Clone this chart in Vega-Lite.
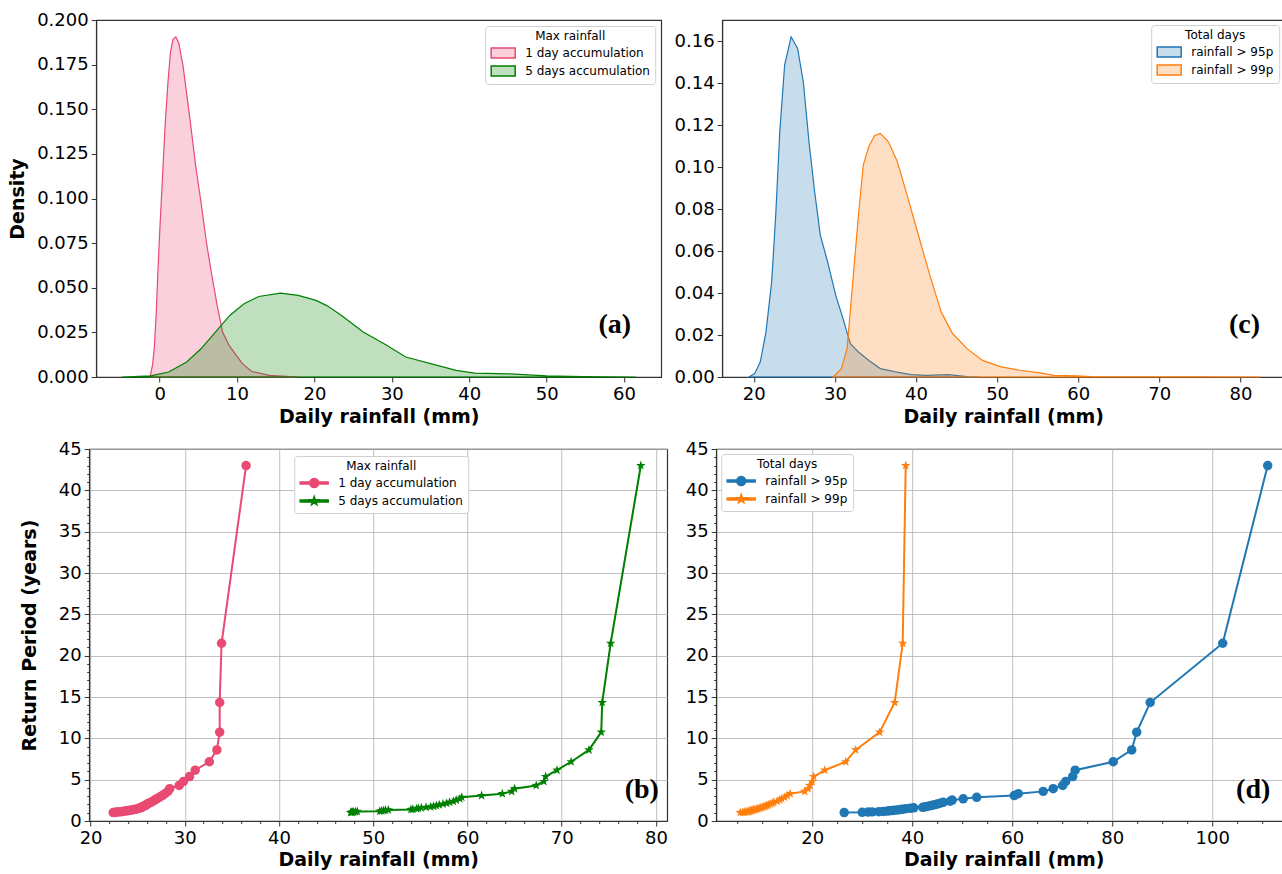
{
  "$schema": "https://vega.github.io/schema/vega-lite/v6.json",
  "background": "white",
  "padding": {"left": 8, "top": 10, "right": 0, "bottom": 0},
  "center": true,
  "datasets": {
    "kde_a": [
      {"series": "1 day accumulation", "x": -1.25, "density": 0},
      {"series": "1 day accumulation", "x": -0.93, "density": 0.0065},
      {"series": "1 day accumulation", "x": -0.7, "density": 0.0158},
      {"series": "1 day accumulation", "x": -0.46, "density": 0.0345},
      {"series": "1 day accumulation", "x": -0.23, "density": 0.0587},
      {"series": "1 day accumulation", "x": 0, "density": 0.081},
      {"series": "1 day accumulation", "x": 0.33, "density": 0.109},
      {"series": "1 day accumulation", "x": 0.7, "density": 0.1407},
      {"series": "1 day accumulation", "x": 1.07, "density": 0.165},
      {"series": "1 day accumulation", "x": 1.39, "density": 0.1817},
      {"series": "1 day accumulation", "x": 1.72, "density": 0.1892},
      {"series": "1 day accumulation", "x": 2.09, "density": 0.1905},
      {"series": "1 day accumulation", "x": 2.46, "density": 0.1873},
      {"series": "1 day accumulation", "x": 3.02, "density": 0.1743},
      {"series": "1 day accumulation", "x": 3.86, "density": 0.1463},
      {"series": "1 day accumulation", "x": 4.65, "density": 0.1184},
      {"series": "1 day accumulation", "x": 5.34, "density": 0.0979},
      {"series": "1 day accumulation", "x": 6.04, "density": 0.0755},
      {"series": "1 day accumulation", "x": 6.74, "density": 0.0569},
      {"series": "1 day accumulation", "x": 7.43, "density": 0.0401},
      {"series": "1 day accumulation", "x": 8.13, "density": 0.0252},
      {"series": "1 day accumulation", "x": 8.97, "density": 0.0177},
      {"series": "1 day accumulation", "x": 9.76, "density": 0.013},
      {"series": "1 day accumulation", "x": 10.69, "density": 0.0075},
      {"series": "1 day accumulation", "x": 11.85, "density": 0.0032},
      {"series": "1 day accumulation", "x": 14.17, "density": 0.0009},
      {"series": "1 day accumulation", "x": 17.9, "density": 0},
      {"series": "5 days accumulation", "x": -4.9, "density": 0},
      {"series": "5 days accumulation", "x": -1.16, "density": 0.0006},
      {"series": "5 days accumulation", "x": 1.16, "density": 0.0028},
      {"series": "5 days accumulation", "x": 3.49, "density": 0.0084},
      {"series": "5 days accumulation", "x": 5.34, "density": 0.0158},
      {"series": "5 days accumulation", "x": 7.2, "density": 0.0252},
      {"series": "5 days accumulation", "x": 9.06, "density": 0.0345},
      {"series": "5 days accumulation", "x": 10.9, "density": 0.041},
      {"series": "5 days accumulation", "x": 12.8, "density": 0.0451},
      {"series": "5 days accumulation", "x": 15.6, "density": 0.047},
      {"series": "5 days accumulation", "x": 17.9, "density": 0.0457},
      {"series": "5 days accumulation", "x": 20.2, "density": 0.0429},
      {"series": "5 days accumulation", "x": 21.6, "density": 0.04},
      {"series": "5 days accumulation", "x": 23.5, "density": 0.0345},
      {"series": "5 days accumulation", "x": 26.3, "density": 0.0252},
      {"series": "5 days accumulation", "x": 29.0, "density": 0.0186},
      {"series": "5 days accumulation", "x": 31.8, "density": 0.0112},
      {"series": "5 days accumulation", "x": 35.5, "density": 0.0069},
      {"series": "5 days accumulation", "x": 38.3, "density": 0.0037},
      {"series": "5 days accumulation", "x": 40.7, "density": 0.0022},
      {"series": "5 days accumulation", "x": 45.3, "density": 0.0017},
      {"series": "5 days accumulation", "x": 50.0, "density": 0.0006},
      {"series": "5 days accumulation", "x": 54.6, "density": 0.0002},
      {"series": "5 days accumulation", "x": 61.5, "density": 0}
    ],
    "kde_c": [
      {"series": "rainfall > 95p", "x": 19.4, "density": 0},
      {"series": "rainfall > 95p", "x": 20.1, "density": 0.0016},
      {"series": "rainfall > 95p", "x": 20.8, "density": 0.0072},
      {"series": "rainfall > 95p", "x": 21.5, "density": 0.0215},
      {"series": "rainfall > 95p", "x": 22.2, "density": 0.0453},
      {"series": "rainfall > 95p", "x": 22.7, "density": 0.077},
      {"series": "rainfall > 95p", "x": 23.2, "density": 0.1168},
      {"series": "rainfall > 95p", "x": 23.8, "density": 0.1486},
      {"series": "rainfall > 95p", "x": 24.6, "density": 0.162},
      {"series": "rainfall > 95p", "x": 25.4, "density": 0.1565},
      {"series": "rainfall > 95p", "x": 26.1, "density": 0.1406},
      {"series": "rainfall > 95p", "x": 26.8, "density": 0.112},
      {"series": "rainfall > 95p", "x": 27.5, "density": 0.0882},
      {"series": "rainfall > 95p", "x": 28.2, "density": 0.0675},
      {"series": "rainfall > 95p", "x": 29.1, "density": 0.0548},
      {"series": "rainfall > 95p", "x": 30.1, "density": 0.0389},
      {"series": "rainfall > 95p", "x": 31.0, "density": 0.0278},
      {"series": "rainfall > 95p", "x": 31.9, "density": 0.0159},
      {"series": "rainfall > 95p", "x": 32.9, "density": 0.0119},
      {"series": "rainfall > 95p", "x": 34.2, "density": 0.0079},
      {"series": "rainfall > 95p", "x": 35.6, "density": 0.004},
      {"series": "rainfall > 95p", "x": 37.5, "density": 0.0024},
      {"series": "rainfall > 95p", "x": 39.4, "density": 0.0011},
      {"series": "rainfall > 95p", "x": 41.2, "density": 0.0008},
      {"series": "rainfall > 95p", "x": 44.0, "density": 0.0011},
      {"series": "rainfall > 95p", "x": 46.3, "density": 0.0002},
      {"series": "rainfall > 95p", "x": 47.7, "density": 0},
      {"series": "rainfall > 99p", "x": 29.8, "density": 0},
      {"series": "rainfall > 99p", "x": 30.8, "density": 0.004},
      {"series": "rainfall > 99p", "x": 31.5, "density": 0.0135},
      {"series": "rainfall > 99p", "x": 32.2, "density": 0.0453},
      {"series": "rainfall > 99p", "x": 32.9, "density": 0.077},
      {"series": "rainfall > 99p", "x": 33.5, "density": 0.101},
      {"series": "rainfall > 99p", "x": 34.2, "density": 0.11},
      {"series": "rainfall > 99p", "x": 34.9, "density": 0.115},
      {"series": "rainfall > 99p", "x": 35.6, "density": 0.116},
      {"series": "rainfall > 99p", "x": 36.6, "density": 0.112},
      {"series": "rainfall > 99p", "x": 37.7, "density": 0.1025},
      {"series": "rainfall > 99p", "x": 38.9, "density": 0.0866},
      {"series": "rainfall > 99p", "x": 40.3, "density": 0.0675},
      {"series": "rainfall > 99p", "x": 41.7, "density": 0.0485},
      {"series": "rainfall > 99p", "x": 43.1, "density": 0.031},
      {"series": "rainfall > 99p", "x": 44.5, "density": 0.0207},
      {"series": "rainfall > 99p", "x": 46.3, "density": 0.0135},
      {"series": "rainfall > 99p", "x": 48.2, "density": 0.0079},
      {"series": "rainfall > 99p", "x": 50.5, "density": 0.0048},
      {"series": "rainfall > 99p", "x": 52.8, "density": 0.0032},
      {"series": "rainfall > 99p", "x": 55.1, "density": 0.0021},
      {"series": "rainfall > 99p", "x": 57.0, "density": 0.0008},
      {"series": "rainfall > 99p", "x": 59.8, "density": 0.0005},
      {"series": "rainfall > 99p", "x": 61.6, "density": 0.0002},
      {"series": "rainfall > 99p", "x": 65.8, "density": 0.0001},
      {"series": "rainfall > 99p", "x": 75.0, "density": 0.0001},
      {"series": "rainfall > 99p", "x": 82.5, "density": 0}
    ],
    "rp_b": [
      {"series": "1 day accumulation", "x": 36.5, "rp": 43},
      {"series": "1 day accumulation", "x": 33.9, "rp": 21.5},
      {"series": "1 day accumulation", "x": 33.7, "rp": 14.333},
      {"series": "1 day accumulation", "x": 33.7, "rp": 10.75},
      {"series": "1 day accumulation", "x": 33.4, "rp": 8.6},
      {"series": "1 day accumulation", "x": 32.6, "rp": 7.167},
      {"series": "1 day accumulation", "x": 31.1, "rp": 6.143},
      {"series": "1 day accumulation", "x": 30.5, "rp": 5.375},
      {"series": "1 day accumulation", "x": 29.85, "rp": 4.778},
      {"series": "1 day accumulation", "x": 29.4, "rp": 4.3},
      {"series": "1 day accumulation", "x": 28.4, "rp": 3.909},
      {"series": "1 day accumulation", "x": 28.2, "rp": 3.583},
      {"series": "1 day accumulation", "x": 27.9, "rp": 3.308},
      {"series": "1 day accumulation", "x": 27.6, "rp": 3.071},
      {"series": "1 day accumulation", "x": 27.3, "rp": 2.867},
      {"series": "1 day accumulation", "x": 27.0, "rp": 2.688},
      {"series": "1 day accumulation", "x": 26.8, "rp": 2.529},
      {"series": "1 day accumulation", "x": 26.6, "rp": 2.389},
      {"series": "1 day accumulation", "x": 26.4, "rp": 2.263},
      {"series": "1 day accumulation", "x": 26.2, "rp": 2.15},
      {"series": "1 day accumulation", "x": 26.0, "rp": 2.048},
      {"series": "1 day accumulation", "x": 25.9, "rp": 1.955},
      {"series": "1 day accumulation", "x": 25.8, "rp": 1.87},
      {"series": "1 day accumulation", "x": 25.6, "rp": 1.792},
      {"series": "1 day accumulation", "x": 25.5, "rp": 1.72},
      {"series": "1 day accumulation", "x": 25.4, "rp": 1.654},
      {"series": "1 day accumulation", "x": 25.3, "rp": 1.593},
      {"series": "1 day accumulation", "x": 25.1, "rp": 1.536},
      {"series": "1 day accumulation", "x": 25.0, "rp": 1.483},
      {"series": "1 day accumulation", "x": 24.8, "rp": 1.433},
      {"series": "1 day accumulation", "x": 24.6, "rp": 1.387},
      {"series": "1 day accumulation", "x": 24.4, "rp": 1.344},
      {"series": "1 day accumulation", "x": 24.2, "rp": 1.303},
      {"series": "1 day accumulation", "x": 24.0, "rp": 1.265},
      {"series": "1 day accumulation", "x": 23.8, "rp": 1.229},
      {"series": "1 day accumulation", "x": 23.6, "rp": 1.194},
      {"series": "1 day accumulation", "x": 23.4, "rp": 1.162},
      {"series": "1 day accumulation", "x": 23.2, "rp": 1.132},
      {"series": "1 day accumulation", "x": 23.0, "rp": 1.103},
      {"series": "1 day accumulation", "x": 22.8, "rp": 1.075},
      {"series": "1 day accumulation", "x": 22.6, "rp": 1.049},
      {"series": "1 day accumulation", "x": 22.4, "rp": 1.024},
      {"series": "5 days accumulation", "x": 78.4, "rp": 43},
      {"series": "5 days accumulation", "x": 75.2, "rp": 21.5},
      {"series": "5 days accumulation", "x": 74.3, "rp": 14.333},
      {"series": "5 days accumulation", "x": 74.2, "rp": 10.75},
      {"series": "5 days accumulation", "x": 72.9, "rp": 8.6},
      {"series": "5 days accumulation", "x": 71.0, "rp": 7.167},
      {"series": "5 days accumulation", "x": 69.5, "rp": 6.143},
      {"series": "5 days accumulation", "x": 68.3, "rp": 5.375},
      {"series": "5 days accumulation", "x": 68.1, "rp": 4.778},
      {"series": "5 days accumulation", "x": 67.3, "rp": 4.3},
      {"series": "5 days accumulation", "x": 65.0, "rp": 3.909},
      {"series": "5 days accumulation", "x": 64.7, "rp": 3.583},
      {"series": "5 days accumulation", "x": 63.7, "rp": 3.308},
      {"series": "5 days accumulation", "x": 61.5, "rp": 3.071},
      {"series": "5 days accumulation", "x": 59.4, "rp": 2.867},
      {"series": "5 days accumulation", "x": 59.2, "rp": 2.688},
      {"series": "5 days accumulation", "x": 58.8, "rp": 2.529},
      {"series": "5 days accumulation", "x": 58.5, "rp": 2.389},
      {"series": "5 days accumulation", "x": 58.1, "rp": 2.263},
      {"series": "5 days accumulation", "x": 57.8, "rp": 2.15},
      {"series": "5 days accumulation", "x": 57.4, "rp": 2.048},
      {"series": "5 days accumulation", "x": 57.0, "rp": 1.955},
      {"series": "5 days accumulation", "x": 56.7, "rp": 1.87},
      {"series": "5 days accumulation", "x": 56.4, "rp": 1.792},
      {"series": "5 days accumulation", "x": 56.1, "rp": 1.72},
      {"series": "5 days accumulation", "x": 55.6, "rp": 1.654},
      {"series": "5 days accumulation", "x": 55.1, "rp": 1.593},
      {"series": "5 days accumulation", "x": 54.8, "rp": 1.536},
      {"series": "5 days accumulation", "x": 54.6, "rp": 1.483},
      {"series": "5 days accumulation", "x": 54.2, "rp": 1.433},
      {"series": "5 days accumulation", "x": 54.0, "rp": 1.387},
      {"series": "5 days accumulation", "x": 51.6, "rp": 1.344},
      {"series": "5 days accumulation", "x": 51.3, "rp": 1.303},
      {"series": "5 days accumulation", "x": 51.1, "rp": 1.265},
      {"series": "5 days accumulation", "x": 50.9, "rp": 1.229},
      {"series": "5 days accumulation", "x": 50.7, "rp": 1.194},
      {"series": "5 days accumulation", "x": 48.3, "rp": 1.162},
      {"series": "5 days accumulation", "x": 48.1, "rp": 1.132},
      {"series": "5 days accumulation", "x": 47.9, "rp": 1.103},
      {"series": "5 days accumulation", "x": 47.8, "rp": 1.075},
      {"series": "5 days accumulation", "x": 47.7, "rp": 1.049},
      {"series": "5 days accumulation", "x": 47.6, "rp": 1.024}
    ],
    "rp_d": [
      {"series": "rainfall > 95p", "x": 111.1, "rp": 43},
      {"series": "rainfall > 95p", "x": 102.1, "rp": 21.5},
      {"series": "rainfall > 95p", "x": 87.6, "rp": 14.333},
      {"series": "rainfall > 95p", "x": 84.9, "rp": 10.75},
      {"series": "rainfall > 95p", "x": 83.9, "rp": 8.6},
      {"series": "rainfall > 95p", "x": 80.2, "rp": 7.167},
      {"series": "rainfall > 95p", "x": 72.6, "rp": 6.143},
      {"series": "rainfall > 95p", "x": 72.1, "rp": 5.375},
      {"series": "rainfall > 95p", "x": 70.7, "rp": 4.778},
      {"series": "rainfall > 95p", "x": 70.1, "rp": 4.3},
      {"series": "rainfall > 95p", "x": 68.2, "rp": 3.909},
      {"series": "rainfall > 95p", "x": 66.2, "rp": 3.583},
      {"series": "rainfall > 95p", "x": 61.2, "rp": 3.308},
      {"series": "rainfall > 95p", "x": 60.4, "rp": 3.071},
      {"series": "rainfall > 95p", "x": 52.9, "rp": 2.867},
      {"series": "rainfall > 95p", "x": 50.2, "rp": 2.688},
      {"series": "rainfall > 95p", "x": 48.0, "rp": 2.529},
      {"series": "rainfall > 95p", "x": 47.6, "rp": 2.389},
      {"series": "rainfall > 95p", "x": 46.2, "rp": 2.263},
      {"series": "rainfall > 95p", "x": 45.6, "rp": 2.15},
      {"series": "rainfall > 95p", "x": 45.0, "rp": 2.048},
      {"series": "rainfall > 95p", "x": 44.4, "rp": 1.955},
      {"series": "rainfall > 95p", "x": 43.8, "rp": 1.87},
      {"series": "rainfall > 95p", "x": 43.2, "rp": 1.792},
      {"series": "rainfall > 95p", "x": 42.6, "rp": 1.72},
      {"series": "rainfall > 95p", "x": 42.1, "rp": 1.654},
      {"series": "rainfall > 95p", "x": 40.3, "rp": 1.593},
      {"series": "rainfall > 95p", "x": 39.6, "rp": 1.536},
      {"series": "rainfall > 95p", "x": 38.7, "rp": 1.483},
      {"series": "rainfall > 95p", "x": 38.1, "rp": 1.433},
      {"series": "rainfall > 95p", "x": 37.6, "rp": 1.387},
      {"series": "rainfall > 95p", "x": 37.1, "rp": 1.344},
      {"series": "rainfall > 95p", "x": 36.5, "rp": 1.303},
      {"series": "rainfall > 95p", "x": 36.0, "rp": 1.265},
      {"series": "rainfall > 95p", "x": 35.4, "rp": 1.229},
      {"series": "rainfall > 95p", "x": 34.9, "rp": 1.194},
      {"series": "rainfall > 95p", "x": 34.2, "rp": 1.162},
      {"series": "rainfall > 95p", "x": 33.3, "rp": 1.132},
      {"series": "rainfall > 95p", "x": 32.0, "rp": 1.103},
      {"series": "rainfall > 95p", "x": 31.2, "rp": 1.075},
      {"series": "rainfall > 95p", "x": 30.0, "rp": 1.049},
      {"series": "rainfall > 95p", "x": 26.4, "rp": 1.024},
      {"series": "rainfall > 99p", "x": 38.7, "rp": 43},
      {"series": "rainfall > 99p", "x": 38.1, "rp": 21.5},
      {"series": "rainfall > 99p", "x": 36.5, "rp": 14.333},
      {"series": "rainfall > 99p", "x": 33.5, "rp": 10.75},
      {"series": "rainfall > 99p", "x": 28.7, "rp": 8.6},
      {"series": "rainfall > 99p", "x": 26.7, "rp": 7.167},
      {"series": "rainfall > 99p", "x": 22.5, "rp": 6.143},
      {"series": "rainfall > 99p", "x": 20.3, "rp": 5.375},
      {"series": "rainfall > 99p", "x": 20.0, "rp": 4.778},
      {"series": "rainfall > 99p", "x": 19.5, "rp": 4.3},
      {"series": "rainfall > 99p", "x": 19.2, "rp": 3.909},
      {"series": "rainfall > 99p", "x": 18.5, "rp": 3.583},
      {"series": "rainfall > 99p", "x": 15.6, "rp": 3.308},
      {"series": "rainfall > 99p", "x": 15.0, "rp": 3.071},
      {"series": "rainfall > 99p", "x": 14.5, "rp": 2.867},
      {"series": "rainfall > 99p", "x": 13.9, "rp": 2.688},
      {"series": "rainfall > 99p", "x": 13.5, "rp": 2.529},
      {"series": "rainfall > 99p", "x": 13.0, "rp": 2.389},
      {"series": "rainfall > 99p", "x": 12.3, "rp": 2.263},
      {"series": "rainfall > 99p", "x": 12.0, "rp": 2.15},
      {"series": "rainfall > 99p", "x": 11.6, "rp": 2.048},
      {"series": "rainfall > 99p", "x": 11.2, "rp": 1.955},
      {"series": "rainfall > 99p", "x": 10.9, "rp": 1.87},
      {"series": "rainfall > 99p", "x": 10.6, "rp": 1.792},
      {"series": "rainfall > 99p", "x": 10.3, "rp": 1.72},
      {"series": "rainfall > 99p", "x": 10.0, "rp": 1.654},
      {"series": "rainfall > 99p", "x": 9.7, "rp": 1.593},
      {"series": "rainfall > 99p", "x": 9.4, "rp": 1.536},
      {"series": "rainfall > 99p", "x": 9.1, "rp": 1.483},
      {"series": "rainfall > 99p", "x": 8.8, "rp": 1.433},
      {"series": "rainfall > 99p", "x": 8.5, "rp": 1.387},
      {"series": "rainfall > 99p", "x": 8.3, "rp": 1.344},
      {"series": "rainfall > 99p", "x": 8.0, "rp": 1.303},
      {"series": "rainfall > 99p", "x": 7.8, "rp": 1.265},
      {"series": "rainfall > 99p", "x": 7.6, "rp": 1.229},
      {"series": "rainfall > 99p", "x": 7.4, "rp": 1.194},
      {"series": "rainfall > 99p", "x": 7.2, "rp": 1.162},
      {"series": "rainfall > 99p", "x": 7.0, "rp": 1.132},
      {"series": "rainfall > 99p", "x": 6.7, "rp": 1.103},
      {"series": "rainfall > 99p", "x": 6.4, "rp": 1.075},
      {"series": "rainfall > 99p", "x": 6.1, "rp": 1.049},
      {"series": "rainfall > 99p", "x": 5.6, "rp": 1.024}
    ],
    "labels": [
      {"panel": "a", "x": 58.8, "y": 0.0291, "t": "(a)"},
      {"panel": "c", "x": 80.5, "y": 0.0248, "t": "(c)"},
      {"panel": "b", "x": 78.5, "y": 3.7, "t": "(b)"},
      {"panel": "d", "x": 108.2, "y": 3.7, "t": "(d)"}
    ]
  },
  "resolve": {
    "scale": {"x": "independent", "y": "independent", "color": "independent", "fill": "independent", "stroke": "independent", "shape": "independent"},
    "legend": {"color": "independent", "fill": "independent", "stroke": "independent", "shape": "independent"}
  },
  "vconcat": [
    {
      "spacing": 11,
      "resolve": {
        "scale": {"x": "independent", "y": "independent", "color": "independent", "fill": "independent", "stroke": "independent", "shape": "independent"},
        "legend": {"color": "independent", "fill": "independent", "stroke": "independent", "shape": "independent"}
      },
      "hconcat": [
        {
          "width": 565,
          "height": 357,
          "layer": [
            {
              "data": {"name": "kde_a"},
              "mark": {"type": "area", "strokeWidth": 1.2},
              "encoding": {
                "x": {"field": "x", "type": "quantitative", "scale": {"domain": [-8.2, 64.8], "nice": false, "zero": false},
                  "axis": {"values": [0, 10, 20, 30, 40, 50, 60], "title": "Daily rainfall (mm)", "titlePadding": 4}},
                "y": {"field": "density", "type": "quantitative", "stack": null, "scale": {"domain": [0, 0.2], "nice": false},
                  "axis": {"values": [0, 0.025, 0.05, 0.075, 0.1, 0.125, 0.15, 0.175, 0.2], "format": ".3f", "title": "Density", "titlePadding": 9}},
                "fill": {"field": "series", "type": "nominal",
                  "scale": {"domain": ["1 day accumulation", "5 days accumulation"], "range": ["rgba(232,74,114,0.26)", "rgba(0,128,0,0.25)"]},
                  "legend": {"title": "Max rainfall", "orient": "top-right", "offset": 6, "symbolType": "M-1,-1H3.8V1H-1Z", "symbolSize": 100, "labelOffset": 23, "symbolStrokeWidth": 1.5}},
                "stroke": {"field": "series", "type": "nominal",
                  "scale": {"domain": ["1 day accumulation", "5 days accumulation"], "range": ["#e84a72", "#008000"]}, "legend": null}
              }
            },
            {
              "data": {"name": "labels"},
              "transform": [{"filter": "datum.panel === 'a'"}],
              "mark": {"type": "text", "font": "Liberation Serif", "fontWeight": "bold", "fontSize": 28, "color": "#000"},
              "encoding": {"x": {"field": "x", "type": "quantitative"}, "y": {"field": "y", "type": "quantitative"}, "text": {"field": "t"}}
            }
          ]
        },
        {
          "width": 562,
          "height": 357,
          "layer": [
            {
              "data": {"name": "kde_c"},
              "mark": {"type": "area", "strokeWidth": 1.2},
              "encoding": {
                "x": {"field": "x", "type": "quantitative", "scale": {"domain": [16.1, 85.4], "nice": false, "zero": false},
                  "axis": {"values": [20, 30, 40, 50, 60, 70, 80], "title": "Daily rainfall (mm)", "titlePadding": 4}},
                "y": {"field": "density", "type": "quantitative", "stack": null, "scale": {"domain": [0, 0.17], "nice": false},
                  "axis": {"values": [0, 0.02, 0.04, 0.06, 0.08, 0.1, 0.12, 0.14, 0.16], "format": ".2f", "title": null}},
                "fill": {"field": "series", "type": "nominal",
                  "scale": {"domain": ["rainfall > 95p", "rainfall > 99p"], "range": ["rgba(31,119,180,0.25)", "rgba(255,127,14,0.25)"]},
                  "legend": {"title": "Total days", "orient": "top-right", "offset": 5, "symbolType": "M-1,-1H3.8V1H-1Z", "symbolSize": 100, "labelOffset": 23, "symbolStrokeWidth": 1.5}},
                "stroke": {"field": "series", "type": "nominal",
                  "scale": {"domain": ["rainfall > 95p", "rainfall > 99p"], "range": ["#1f77b4", "#ff7f0e"]}, "legend": null}
              }
            },
            {
              "data": {"name": "labels"},
              "transform": [{"filter": "datum.panel === 'c'"}],
              "mark": {"type": "text", "font": "Liberation Serif", "fontWeight": "bold", "fontSize": 28, "color": "#000"},
              "encoding": {"x": {"field": "x", "type": "quantitative"}, "y": {"field": "y", "type": "quantitative"}, "text": {"field": "t"}}
            }
          ]
        }
      ]
    },
    {
      "spacing": 16,
      "resolve": {
        "scale": {"x": "independent", "y": "independent", "color": "independent", "fill": "independent", "stroke": "independent", "shape": "independent"},
        "legend": {"color": "independent", "fill": "independent", "stroke": "independent", "shape": "independent"}
      },
      "hconcat": [
        {
          "width": 578,
          "height": 372,
          "encoding": {
            "x": {"field": "x", "type": "quantitative", "scale": {"domain": [19.85, 81.2], "nice": false, "zero": false},
              "axis": {"values": [20, 22, 24, 26, 28, 30, 32, 34, 36, 38, 40, 42, 44, 46, 48, 50, 52, 54, 56, 58, 60, 62, 64, 66, 68, 70, 72, 74, 76, 78, 80],
                "labelExpr": "datum.value % 10 === 0 ? datum.label : ''",
                "tickSize": {"condition": {"test": "datum.value % 10 === 0", "value": 5}, "value": 2.5},
                "grid": true, "gridColor": "#b0b0b0", "gridWidth": 1,
                "gridOpacity": {"condition": {"test": "datum.value % 10 === 0", "value": 0.8}, "value": 0},
                "title": "Daily rainfall (mm)", "titlePadding": 3}},
            "y": {"field": "rp", "type": "quantitative", "scale": {"domain": [0, 45], "nice": false},
              "axis": {"values": [0,1,2,3,4,5,6,7,8,9,10,11,12,13,14,15,16,17,18,19,20,21,22,23,24,25,26,27,28,29,30,31,32,33,34,35,36,37,38,39,40,41,42,43,44,45],
                "labelExpr": "datum.value % 5 === 0 ? datum.label : ''",
                "tickSize": {"condition": {"test": "datum.value % 5 === 0", "value": 5}, "value": 2.5},
                "grid": true, "gridColor": "#b0b0b0", "gridWidth": 1,
                "gridOpacity": {"condition": {"test": "datum.value % 5 === 0", "value": 0.8}, "value": 0},
                "title": "Return Period (years)", "titlePadding": 19}},
            "color": {"field": "series", "type": "nominal", "scale": {"domain": ["1 day accumulation", "5 days accumulation"], "range": ["#e84a72", "#008000"]},
              "legend": {"title": "Max rainfall", "orient": "none", "legendX": 205, "legendY": 7, "symbolSize": 100, "labelOffset": 27}}
          },
          "layer": [
            {
              "data": {"name": "rp_b"},
              "mark": {"type": "line", "strokeWidth": 2},
              "encoding": {"order": {"field": "rp", "type": "quantitative"}}
            },
            {
              "data": {"name": "rp_b"},
              "transform": [{"filter": "datum.series === '1 day accumulation'"}],
              "mark": {"type": "point", "filled": true, "opacity": 1, "size": 90, "shape": "circle"}
            },
            {
              "data": {"name": "rp_b"},
              "transform": [{"filter": "datum.series === '5 days accumulation'"}],
              "mark": {"type": "point", "filled": true, "opacity": 1, "size": 100, "shape": "M0,-1L0.235,-0.324L0.951,-0.309L0.38,0.124L0.588,0.809L0,0.4L-0.588,0.809L-0.38,0.124L-0.951,-0.309L-0.235,-0.324Z"}
            },
            {
              "data": {"name": "rp_b"},
              "transform": [{"filter": "false"}],
              "mark": {"type": "point", "filled": true, "opacity": 1},
              "encoding": {
                "shape": {"field": "series", "type": "nominal", "scale": {"domain": ["1 day accumulation", "5 days accumulation"],
                  "range": ["M-1,-0.2H4.6V0.2H-1Z M0.9,0A0.9,0.9 0 1,1 2.7,0A0.9,0.9 0 1,1 0.9,0Z", "M-1,-0.2H4.6V0.2H-1Z M1.8,-0.9L2.012,-0.292L2.656,-0.278L2.142,0.112L2.329,0.728L1.8,0.36L1.271,0.728L1.458,0.112L0.944,-0.278L1.588,-0.292Z"]},
                  "legend": {"title": "Max rainfall", "orient": "none", "legendX": 205, "legendY": 7, "symbolSize": 100, "labelOffset": 27}}
              }
            },
            {
              "data": {"name": "labels"},
              "transform": [{"filter": "datum.panel === 'b'"}],
              "mark": {"type": "text", "font": "Liberation Serif", "fontWeight": "bold", "fontSize": 28, "color": "#000"},
              "encoding": {"y": {"field": "y", "type": "quantitative"}, "text": {"field": "t"}, "color": {"value": "#000"}}
            }
          ]
        },
        {
          "width": 575,
          "height": 372,
          "encoding": {
            "x": {"field": "x", "type": "quantitative", "scale": {"domain": [0.8, 115.8], "nice": false, "zero": false},
              "axis": {"values": [5, 10, 15, 20, 25, 30, 35, 40, 45, 50, 55, 60, 65, 70, 75, 80, 85, 90, 95, 100, 105, 110, 115, 121],
                "labelExpr": "datum.value % 20 === 0 ? datum.label : ''",
                "tickSize": {"condition": {"test": "datum.value % 20 === 0", "value": 5}, "value": 2.5},
                "grid": true, "gridColor": "#b0b0b0", "gridWidth": 1,
                "gridOpacity": {"condition": {"test": "datum.value % 20 === 0", "value": 0.8}, "value": 0},
                "title": "Daily rainfall (mm)", "titlePadding": 3}},
            "y": {"field": "rp", "type": "quantitative", "scale": {"domain": [0, 45], "nice": false},
              "axis": {"values": [0,1,2,3,4,5,6,7,8,9,10,11,12,13,14,15,16,17,18,19,20,21,22,23,24,25,26,27,28,29,30,31,32,33,34,35,36,37,38,39,40,41,42,43,44,45],
                "labelExpr": "datum.value % 5 === 0 ? datum.label : ''",
                "tickSize": {"condition": {"test": "datum.value % 5 === 0", "value": 5}, "value": 2.5},
                "grid": true, "gridColor": "#b0b0b0", "gridWidth": 1,
                "gridOpacity": {"condition": {"test": "datum.value % 5 === 0", "value": 0.8}, "value": 0},
                "title": null}},
            "color": {"field": "series", "type": "nominal", "scale": {"domain": ["rainfall > 95p", "rainfall > 99p"], "range": ["#1f77b4", "#ff7f0e"]},
              "legend": {"title": "Total days", "orient": "top-left", "offset": 5, "symbolSize": 100, "labelOffset": 27}}
          },
          "layer": [
            {
              "data": {"name": "rp_d"},
              "mark": {"type": "line", "strokeWidth": 2},
              "encoding": {"order": {"field": "rp", "type": "quantitative"}}
            },
            {
              "data": {"name": "rp_d"},
              "transform": [{"filter": "datum.series === 'rainfall > 95p'"}],
              "mark": {"type": "point", "filled": true, "opacity": 1, "size": 90, "shape": "circle"}
            },
            {
              "data": {"name": "rp_d"},
              "transform": [{"filter": "datum.series === 'rainfall > 99p'"}],
              "mark": {"type": "point", "filled": true, "opacity": 1, "size": 100, "shape": "M0,-1L0.235,-0.324L0.951,-0.309L0.38,0.124L0.588,0.809L0,0.4L-0.588,0.809L-0.38,0.124L-0.951,-0.309L-0.235,-0.324Z"}
            },
            {
              "data": {"name": "rp_d"},
              "transform": [{"filter": "false"}],
              "mark": {"type": "point", "filled": true, "opacity": 1},
              "encoding": {
                "shape": {"field": "series", "type": "nominal", "scale": {"domain": ["rainfall > 95p", "rainfall > 99p"],
                  "range": ["M-1,-0.2H4.6V0.2H-1Z M0.9,0A0.9,0.9 0 1,1 2.7,0A0.9,0.9 0 1,1 0.9,0Z", "M-1,-0.2H4.6V0.2H-1Z M1.8,-0.9L2.012,-0.292L2.656,-0.278L2.142,0.112L2.329,0.728L1.8,0.36L1.271,0.728L1.458,0.112L0.944,-0.278L1.588,-0.292Z"]},
                  "legend": {"title": "Total days", "orient": "top-left", "offset": 5, "symbolSize": 100, "labelOffset": 27}}
              }
            },
            {
              "data": {"name": "labels"},
              "transform": [{"filter": "datum.panel === 'd'"}],
              "mark": {"type": "text", "font": "Liberation Serif", "fontWeight": "bold", "fontSize": 28, "color": "#000"},
              "encoding": {"y": {"field": "y", "type": "quantitative"}, "text": {"field": "t"}, "color": {"value": "#000"}}
            }
          ]
        }
      ]
    }
  ],
  "spacing": 12,
  "config": {
    "font": "DejaVu Sans",
    "view": {"stroke": "#333", "strokeWidth": 1.2},
    "axis": {"labelFont": "DejaVu Sans", "labelFontSize": 18, "labelColor": "#000", "titleFont": "DejaVu Sans", "titleFontSize": 19, "titleFontWeight": "bold", "titleColor": "#000",
      "domainColor": "#333", "tickColor": "#333", "tickSize": 5, "labelPadding": 3, "grid": false, "labelFlush": false, "labelOverlap": false},
    "legend": {"labelFont": "DejaVu Sans", "labelFontSize": 12, "titleFont": "DejaVu Sans", "titleFontSize": 12, "titleFontWeight": "normal", "labelColor": "#000", "titleColor": "#000",
      "fillColor": "white", "strokeColor": "#d0d0d0", "cornerRadius": 3, "padding": 5, "titleAnchor": "middle", "titlePadding": 4, "rowPadding": 2}
  }
}
